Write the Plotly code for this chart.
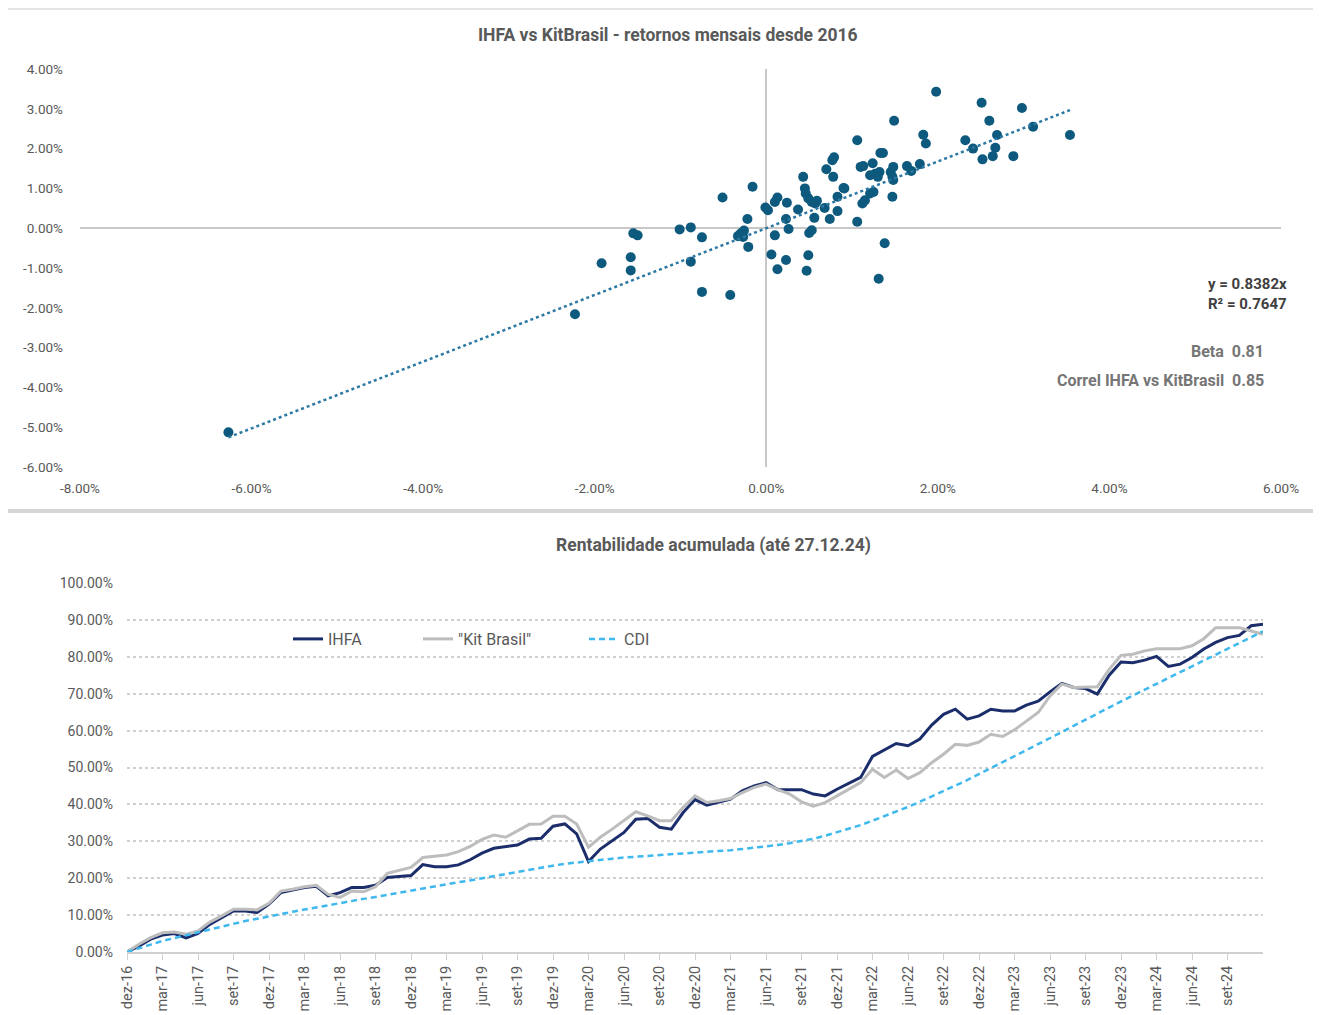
import plotly.graph_objects as go

# ---------------- DATA ----------------
# Scatter: monthly returns (%) KitBrasil (x) vs IHFA (y)
kit_ret = [-6.27, -2.23, -1.92, -1.55, -1.50, -1.58, -1.58, -1.01, -0.88, -0.75,
           -0.88, -0.75, -0.42, -0.51, -0.16, -0.22, -0.33, -0.29, -0.26, -0.31,
           -0.27, -0.21, -0.01, 0.02, 0.10, 0.13, 0.24, 0.10, 0.06, 0.13,
           0.23, 0.26, 0.23, 0.37, 0.49, 0.47, 0.50, 0.53, 0.56, 0.43,
           0.45, 0.46, 0.49, 0.53, 0.57, 0.59, 0.68, 0.74, 0.83, 0.83,
           0.90, 0.70, 0.78, 0.77, 0.79, 1.06, 1.12, 1.15, 1.21, 1.25,
           1.10, 1.13, 1.24, 1.21, 1.27, 1.32, 1.30, 1.31, 1.38, 1.33,
           1.36, 1.45, 1.48, 1.47, 1.48, 1.47, 1.64, 1.69, 1.79, 0.91,
           1.06, 1.49, 1.83, 1.86, 1.98, 2.32, 2.41, 2.51, 2.60, 2.69,
           2.67, 2.52, 2.64, 2.88, 2.98, 3.11, 3.54]
ihfa_ret = [-5.13, -2.16, -0.88, -0.13, -0.18, -0.73, -1.06, -0.03, 0.02, -0.23,
            -0.84, -1.60, -1.68, 0.77, 1.04, 0.23, -0.20, -0.12, -0.06, -0.16,
            -0.22, -0.47, 0.52, 0.45, 0.66, 0.77, 0.64, -0.18, -0.66, -1.03,
            -0.80, -0.02, 0.23, 0.47, -0.68, -1.07, -0.12, -0.05, 0.26, 1.29,
            1.00, 0.87, 0.75, 0.66, 0.62, 0.69, 0.51, 0.23, 0.43, 0.79,
            1.01, 1.48, 1.29, 1.71, 1.78, 0.16, 0.62, 0.70, 0.87, 0.91,
            1.54, 1.56, 1.63, 1.33, 1.37, 1.41, 1.29, -1.27, -0.38, 1.89,
            1.89, 1.41, 1.54, 1.29, 1.21, 0.79, 1.56, 1.44, 1.61, 1.00,
            2.21, 2.70, 2.35, 2.13, 3.43, 2.21, 2.00, 3.15, 2.70, 2.34,
            2.02, 1.73, 1.81, 1.81, 3.02, 2.55, 2.34]
slope = 0.8382
r2 = 0.7647
beta = 0.81
correl = 0.85

scatter_xticks = [-8, -6, -4, -2, 0, 2, 4, 6]
scatter_xticklabels = ["-8.00%", "-6.00%", "-4.00%", "-2.00%", "0.00%", "2.00%", "4.00%", "6.00%"]
scatter_yticks = [4, 3, 2, 1, 0, -1, -2, -3, -4, -5, -6]
scatter_yticklabels = ["4.00%", "3.00%", "2.00%", "1.00%", "0.00%", "-1.00%", "-2.00%",
                       "-3.00%", "-4.00%", "-5.00%", "-6.00%"]

# Cumulative returns (%) from dez-16 to dez-24 (monthly)
month_abbr = ["jan", "fev", "mar", "abr", "mai", "jun", "jul", "ago", "set", "out", "nov", "dez"]
ihfa_cum = [0.0, 1.6, 3.5, 4.6, 5.0, 3.8, 5.0, 7.5, 9.3, 11.1,
            11.1, 10.7, 13.0, 16.1, 16.8, 17.5, 17.8, 15.2, 16.1, 17.5,
            17.5, 18.1, 20.2, 20.5, 20.7, 23.7, 23.1, 23.1, 23.6, 25.0,
            26.8, 28.1, 28.6, 29.0, 30.6, 30.8, 34.1, 34.7, 32.0, 24.5,
            27.9, 30.2, 32.4, 36.0, 36.2, 33.8, 33.3, 37.8, 41.3, 39.8,
            40.7, 41.4, 43.7, 45.0, 45.9, 44.0, 44.0, 44.0, 42.8, 42.3,
            44.1, 45.8, 47.3, 53.0, 54.8, 56.5, 55.9, 57.7, 61.5, 64.4,
            65.8, 63.1, 64.0, 65.8, 65.3, 65.3, 66.9, 68.0, 70.5, 72.8,
            71.7, 71.4, 69.9, 75.0, 78.6, 78.4, 79.1, 80.1, 77.4, 78.0,
            79.8, 82.1, 83.9, 85.2, 85.8, 88.4, 88.8]
kit_cum = [0.0, 2.1, 3.9, 5.2, 5.4, 4.8, 5.7, 8.1, 9.8, 11.6,
           11.6, 11.4, 13.2, 16.5, 17.0, 17.7, 18.1, 15.6, 14.8, 16.5,
           16.3, 17.7, 21.3, 22.2, 22.9, 25.6, 25.9, 26.3, 27.2, 28.6,
           30.5, 31.7, 31.1, 32.9, 34.6, 34.7, 36.8, 36.8, 34.7, 28.4,
           31.1, 33.3, 35.6, 38.0, 36.9, 35.6, 35.6, 39.2, 42.3, 40.5,
           41.0, 41.6, 43.2, 44.6, 45.5, 44.0, 42.8, 40.7, 39.5, 40.5,
           42.3, 44.1, 45.9, 49.5, 47.3, 49.3, 47.0, 48.6, 51.3, 53.6,
           56.3, 56.0, 56.9, 59.0, 58.4, 60.2, 62.6, 64.9, 69.4, 72.6,
           71.7, 71.7, 71.9, 76.6, 80.4, 80.7, 81.6, 82.2, 82.1, 82.2,
           83.0, 84.9, 87.9, 87.9, 87.9, 87.0, 86.1]
cdi_cum = [0.0, 1.1, 2.0, 3.0, 3.8, 4.5, 5.4, 6.2, 7.0, 7.7,
           8.4, 9.0, 9.7, 10.3, 10.9, 11.5, 12.1, 12.6, 13.2, 13.8,
           14.4, 14.9, 15.5, 16.0, 16.6, 17.2, 17.7, 18.3, 18.9, 19.4,
           20.0, 20.6, 21.2, 21.8, 22.3, 22.8, 23.4, 23.9, 24.3, 24.7,
           25.0, 25.3, 25.6, 25.8, 26.0, 26.2, 26.4, 26.6, 26.9, 27.1,
           27.3, 27.6, 27.9, 28.2, 28.6, 29.0, 29.5, 30.0, 30.7, 31.5,
           32.4, 33.4, 34.4, 35.6, 36.8, 38.0, 39.3, 40.7, 42.1, 43.6,
           45.1, 46.6, 48.2, 49.8, 51.4, 53.0, 54.6, 56.3, 57.9, 59.6,
           61.3, 63.0, 64.6, 66.3, 67.9, 69.5, 71.1, 72.6, 74.2, 75.8,
           77.4, 79.0, 80.6, 82.2, 83.8, 85.4, 86.9]
line_yticks = [0, 10, 20, 30, 40, 50, 60, 70, 80, 90, 100]
line_yticklabels = ["0.00%", "10.00%", "20.00%", "30.00%", "40.00%", "50.00%",
                    "60.00%", "70.00%", "80.00%", "90.00%", "100.00%"]

# Month category labels dez-16 ... dez-24
months = []
for yy in range(16, 25):
    for mi, m in enumerate(month_abbr):
        if (yy == 16 and mi < 11):
            continue
        months.append(f"{m}-{yy:02d}")
months = months[:len(ihfa_cum)]
month_ticks = months[:-1][::3]   # dez-16 ... set-24

# ---------------- LAYOUT HELPERS ----------------
W, H = 1321, 1015
OFF = 8  # page body margin
def px(x):
    return (x - OFF) / W
def py(y):
    return 1 - (y - OFF) / H

FONT = "Roboto, Liberation Sans, sans-serif"
GRAY = "#595959"

fig = go.Figure()

# Scatter
fig.add_trace(go.Scatter(
    x=kit_ret, y=ihfa_ret, mode="markers",
    marker=dict(color="#0e5a7e", size=10),
    xaxis="x", yaxis="y", showlegend=False))

# Trend line y = slope * x through data extent
xmin, xmax = min(kit_ret), max(kit_ret)
fig.add_trace(go.Scatter(
    x=[xmin, xmax], y=[slope * xmin, slope * xmax], mode="lines",
    line=dict(color="#2b78a3", width=2.5, dash="dot"),
    xaxis="x", yaxis="y", showlegend=False))

# Lines
fig.add_trace(go.Scatter(
    x=months, y=ihfa_cum, mode="lines", name="IHFA",
    line=dict(color="#1b2e6b", width=3),
    xaxis="x2", yaxis="y2", legend="legend"))
fig.add_trace(go.Scatter(
    x=months, y=kit_cum, mode="lines", name="\"Kit Brasil\"",
    line=dict(color="#bdbdbd", width=3),
    xaxis="x2", yaxis="y2", legend="legend2"))
fig.add_trace(go.Scatter(
    x=months, y=cdi_cum, mode="lines", name="CDI",
    line=dict(color="#3fb8ee", width=2.5, dash="6px,4px"),
    xaxis="x2", yaxis="y2", legend="legend3"))

tickfont = dict(family=FONT, size=13.5, color=GRAY)
ytickfont2 = dict(family=FONT, size=14, color=GRAY)
xtickfont2 = dict(family=FONT, size=14.5, color=GRAY)
legfont = dict(family=FONT, size=16, color=GRAY)

def leg(xpix):
    return dict(x=px(xpix), y=py(639), xanchor="left", yanchor="middle",
                orientation="h", bgcolor="rgba(0,0,0,0)", font=legfont,
                itemwidth=30)

fig.update_layout(
    width=W, height=H,
    margin=dict(l=0, r=0, t=0, b=0),
    paper_bgcolor="white", plot_bgcolor="white",
    font=dict(family=FONT, color=GRAY),
    xaxis=dict(domain=[px(80), px(1281)], range=[-8, 6], automargin=False,
               tickvals=scatter_xticks, ticktext=scatter_xticklabels,
               showgrid=False, zeroline=True, zerolinecolor="#c8c8c8", zerolinewidth=2,
               showline=False, ticks="", tickfont=tickfont, ticklabelstandoff=11,
               anchor="y"),
    yaxis=dict(domain=[py(467), py(69)], range=[-6, 4], automargin=False,
               tickvals=scatter_yticks, ticktext=scatter_yticklabels,
               showgrid=False, zeroline=True, zerolinecolor="#c8c8c8", zerolinewidth=2,
               showline=False, ticks="", tickfont=tickfont, ticklabelstandoff=16,
               anchor="x"),
    xaxis2=dict(domain=[px(127), px(1263)], range=[0, len(months) - 1], automargin=False,
                type="category", tickvals=month_ticks, ticktext=month_ticks,
                tickangle=-90, showgrid=False, showline=True, linecolor="#d0d0d0",
                linewidth=2, ticks="outside", ticklen=6, tickcolor="#d0d0d0",
                tickfont=xtickfont2, anchor="y2"),
    yaxis2=dict(domain=[py(952), py(583)], range=[0, 100], automargin=False,
                tickvals=line_yticks, ticktext=line_yticklabels,
                showgrid=True, gridcolor="#d0d0d0", griddash="dot", gridwidth=1.5,
                zeroline=False, showline=False, ticks="", tickfont=ytickfont2,
                ticklabelstandoff=13, anchor="x2"),
    legend=leg(288), legend2=leg(418), legend3=leg(584),
)

# Titles and annotations
annos = [
    dict(text="<b>IHFA vs KitBrasil - retornos mensais desde 2016</b>",
         x=px(668), y=py(35), font=dict(family=FONT, size=17.5, color=GRAY)),
    dict(text="<b>Rentabilidade acumulada (até 27.12.24)</b>",
         x=px(713), y=py(545), font=dict(family=FONT, size=17.5, color=GRAY)),
    dict(text=f"<b>y = {slope:.4f}x</b>", x=px(1289), y=py(284), xanchor="right",
         font=dict(family=FONT, size=15, color="#404040")),
    dict(text=f"<b>R² = {r2:.4f}</b>", x=px(1289), y=py(304), xanchor="right",
         font=dict(family=FONT, size=15, color="#404040")),
    dict(text=f"<b>Beta  {beta:.2f}</b>", x=px(1266), y=py(351), xanchor="right",
         font=dict(family=FONT, size=16, color="#767676")),
    dict(text=f"<b>Correl IHFA vs KitBrasil  {correl:.2f}</b>", x=px(1266), y=py(380),
         xanchor="right", font=dict(family=FONT, size=16, color="#767676")),
]
for a in annos:
    a.setdefault("xanchor", "center")
    fig.add_annotation(xref="paper", yref="paper", yanchor="middle",
                       showarrow=False, **a)

# Frame lines
fig.add_shape(type="line", xref="paper", yref="paper", x0=0, x1=1, y0=py(9), y1=py(9),
              line=dict(color="#dcdcdc", width=1.5))
fig.add_shape(type="line", xref="paper", yref="paper", x0=0, x1=1, y0=py(511), y1=py(511),
              line=dict(color="#d6d6d6", width=4))
fig.add_shape(type="line", xref="paper", yref="paper", x0=px(1317), x1=px(1317), y0=py(9), y1=py(509),
              line=dict(color="#e4e4e4", width=1.5))
fig.add_shape(type="line", xref="paper", yref="paper", x0=px(1314), x1=px(1314), y0=py(513), y1=0,
              line=dict(color="#e8e8e8", width=1.5))

fig.write_html("out.html")
